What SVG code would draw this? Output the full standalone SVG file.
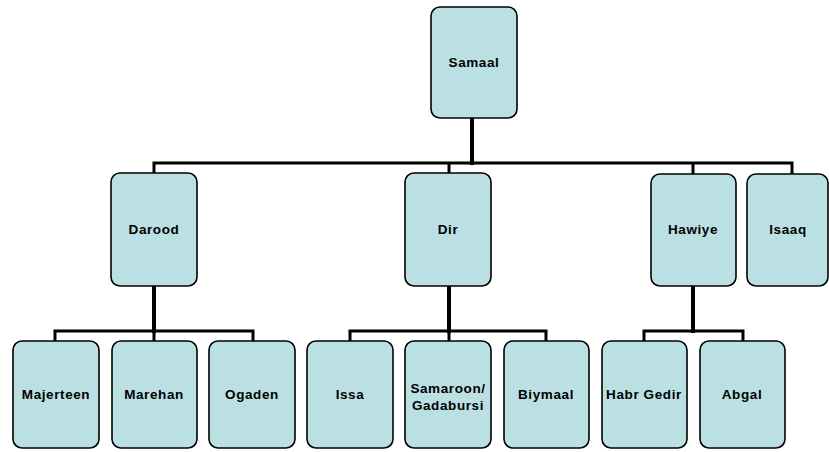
<svg xmlns="http://www.w3.org/2000/svg" width="829" height="452" viewBox="0 0 829 452">
<style>
.box{fill:#BBE0E3;stroke:#000;stroke-width:1.6}
.lbl{font-family:"Liberation Sans",Arial,sans-serif;font-weight:bold;font-size:13.5px;fill:#000;text-anchor:middle;letter-spacing:0.6px}
.thick{stroke:#000;stroke-width:4;fill:none;stroke-linecap:square}
.thin{stroke:#000;stroke-width:3;fill:none;stroke-linejoin:miter}
</style>
<rect width="829" height="452" fill="#fff"/>
<g id="connectors">
<path class="thick" d="M472,118 V163"/>
<path class="thin" d="M154,173 V163 H792 V174"/>
<path class="thin" d="M449,163 V173"/>
<path class="thin" d="M693,163 V174"/>
<path class="thick" d="M154,286 V331"/>
<path class="thin" d="M55,341 V331 H253 V341"/>
<path class="thin" d="M154,331 V341"/>
<path class="thick" d="M449,286 V331"/>
<path class="thin" d="M350,341 V331 H546 V341"/>
<path class="thin" d="M449,331 V341"/>
<path class="thick" d="M693,286 V331"/>
<path class="thin" d="M644,341 V331 H743 V341"/>
</g>
<g id="samaal"><rect class="box" x="431" y="7" width="86" height="111" rx="9"/><text class="lbl" x="474" y="67">Samaal</text></g>
<g id="darood"><rect class="box" x="111" y="173" width="86" height="113" rx="9"/><text class="lbl" x="154" y="234">Darood</text></g>
<g id="dir"><rect class="box" x="405" y="173" width="86" height="113" rx="9"/><text class="lbl" x="448" y="234">Dir</text></g>
<g id="hawiye"><rect class="box" x="651" y="174" width="85" height="112" rx="9"/><text class="lbl" x="693" y="234">Hawiye</text></g>
<g id="isaaq"><rect class="box" x="747" y="174" width="81" height="112" rx="9"/><text class="lbl" x="788" y="234">Isaaq</text></g>
<g id="majerteen"><rect class="box" x="13" y="341" width="86" height="107" rx="9"/><text class="lbl" x="56" y="399">Majerteen</text></g>
<g id="marehan"><rect class="box" x="112" y="341" width="85" height="107" rx="9"/><text class="lbl" x="154" y="399">Marehan</text></g>
<g id="ogaden"><rect class="box" x="209" y="341" width="86" height="107" rx="9"/><text class="lbl" x="252" y="399">Ogaden</text></g>
<g id="issa"><rect class="box" x="307" y="341" width="86" height="107" rx="9"/><text class="lbl" x="350" y="399">Issa</text></g>
<g id="samaroon"><rect class="box" x="405" y="341" width="86" height="107" rx="9"/><text class="lbl" x="448" y="393">Samaroon/</text><text class="lbl" x="448" y="410">Gadabursi</text></g>
<g id="biymaal"><rect class="box" x="504" y="341" width="85" height="107" rx="9"/><text class="lbl" x="546" y="399">Biymaal</text></g>
<g id="habrgedir"><rect class="box" x="602" y="341" width="85" height="107" rx="9"/><text class="lbl" x="644" y="399">Habr Gedir</text></g>
<g id="abgal"><rect class="box" x="700" y="341" width="85" height="107" rx="9"/><text class="lbl" x="742" y="399">Abgal</text></g>
</svg>
